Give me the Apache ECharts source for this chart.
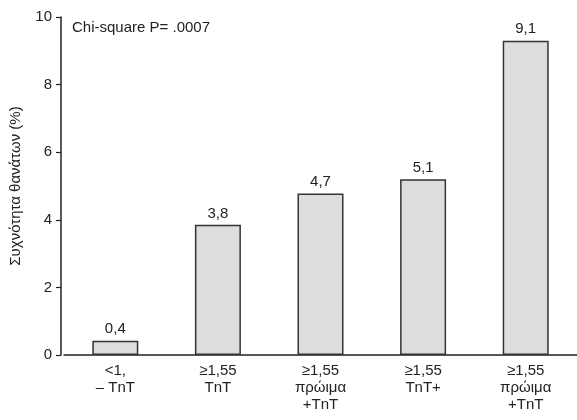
<!DOCTYPE html>
<html>
<head>
<meta charset="utf-8">
<script src="https://cdn.jsdelivr.net/npm/echarts@6/dist/echarts.min.js"></script>
<style>
html,body{margin:0;padding:0;background:#fff;}
#chart{width:577px;height:420px;}
</style>
</head>
<body>
<div id="chart"></div>
<script>
// Categories (x-axis labels, multi-line)
var categories = ['<1,\n\u2013 TnT', '\u22651,55\nTnT', '\u22651,55\n\u03c0\u03c1\u03ce\u03b9\u03bc\u03b1\n+TnT', '\u22651,55\nTnT+', '\u22651,55\n\u03c0\u03c1\u03ce\u03b9\u03bc\u03b1\n+TnT'];
// Bar heights
var barHeights = [0.42, 3.85, 4.78, 5.2, 9.3];
// Printed value labels
var valueLabels = ['0,4', '3,8', '4,7', '5,1', '9,1'];
// Y tick values
var yTicks = [0, 2, 4, 6, 8, 10];

var FONT = '"Liberation Sans", Arial, sans-serif';
var TXT = '#222';

var chart = echarts.init(document.getElementById('chart'), null, {renderer: 'canvas'});
chart.setOption({
  animation: false,
  backgroundColor: '#ffffff',
  grid: {left: 63.75, right: -9.25, top: 17, bottom: 65, containLabel: false},
  xAxis: {
    type: 'category',
    data: categories,
    boundaryGap: true,
    axisLine: {show: true, lineStyle: {color: TXT, width: 1.5}},
    axisTick: {show: false},
    axisLabel: {color: TXT, fontFamily: FONT, fontSize: 15, lineHeight: 17, margin: 7, interval: 0}
  },
  yAxis: {
    type: 'value',
    min: yTicks[0],
    max: yTicks[yTicks.length - 1],
    interval: 2,
    offset: 3,
    name: '\u03a3\u03c5\u03c7\u03bd\u03cc\u03c4\u03b7\u03c4\u03b1 \u03b8\u03b1\u03bd\u03ac\u03c4\u03c9\u03bd (%)',
    nameLocation: 'middle',
    nameGap: 38,
    nameRotate: 90,
    nameTextStyle: {color: TXT, fontFamily: FONT, fontSize: 15},
    axisLine: {show: true, lineStyle: {color: TXT, width: 1.5}},
    axisTick: {show: true, length: 5, lineStyle: {color: TXT, width: 1.2}},
    axisLabel: {color: TXT, fontFamily: FONT, fontSize: 15, margin: 9},
    splitLine: {show: false}
  },
  series: [{
    type: 'bar',
    data: barHeights,
    barWidth: 46,
    itemStyle: {color: '#dcdddf', borderColor: '#333', borderWidth: 1.5},
    label: {
      show: true,
      position: 'top',
      distance: 4,
      color: TXT,
      fontFamily: FONT,
      fontSize: 15,
      formatter: function (p) { return valueLabels[p.dataIndex]; }
    }
  }],
  graphic: [{
    type: 'text',
    left: 72,
    top: 20,
    style: {text: 'Chi-square P= .0007', fill: TXT, font: '15px ' + FONT}
  }]
});
</script>
</body>
</html>
